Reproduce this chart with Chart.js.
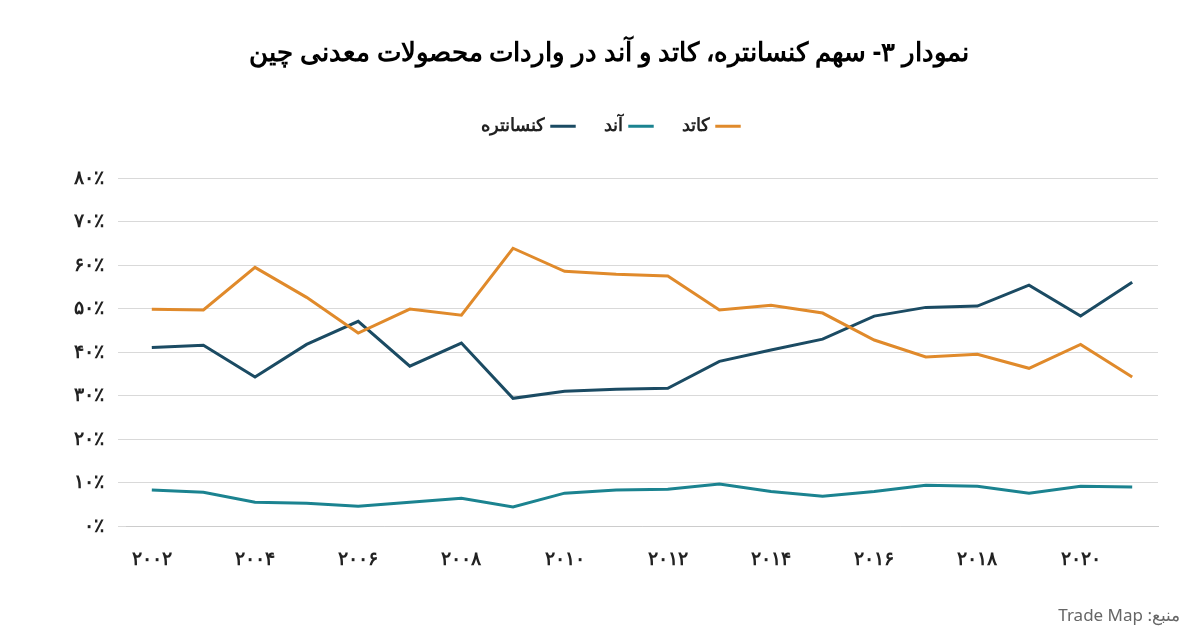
<!DOCTYPE html>
<html><head><meta charset="utf-8">
<script src="https://cdn.jsdelivr.net/npm/chart.js@4"></script>
<style>html,body{margin:0;background:#fff;}#w{position:relative;width:1196px;height:644px;}
#src{position:absolute;right:16px;bottom:18px;font:17px "Noto Sans";color:#666;direction:rtl;}</style>
</head><body><div id="w"><canvas id="c" width="1196" height="644"></canvas><div id="src">منبع: Trade Map</div></div>
<script>
const years=[2002,2003,2004,2005,2006,2007,2008,2009,2010,2011,2012,2013,2014,2015,2016,2017,2018,2019,2020,2021];
const cathode=[49.9,49.7,59.5,52.6,44.4,49.9,48.5,63.9,58.6,57.9,57.5,49.7,50.8,49.0,42.8,38.9,39.5,36.3,41.8,34.3];
const anode=[8.3,7.8,5.5,5.3,4.6,5.5,6.4,4.4,7.6,8.3,8.5,9.7,8.0,6.9,8.0,9.4,9.2,7.6,9.2,9.0];
const concentrate=[41.1,41.6,34.3,41.8,47.1,36.8,42.1,29.4,31.0,31.5,31.7,37.9,40.5,43.0,48.3,50.3,50.6,55.4,48.3,56.1];
const fa=n=>String(n).replace(/\d/g,d=>'۰۱۲۳۴۵۶۷۸۹'[d]);
const ds=(l,d,c)=>({label:l,data:d,borderColor:c,backgroundColor:c,borderWidth:3,pointRadius:0,tension:0});
const legendPad={id:'lp',beforeInit(c){const f=c.legend.fit;c.legend.fit=function(){f.call(this);this.height+=33;};}};
new Chart(document.getElementById('c'),{type:'line',
data:{labels:years,datasets:[ds('کاتد',cathode,'#e08a2b'),ds('آند',anode,'#1b8390'),ds('کنسانتره',concentrate,'#1b4b63')]},
plugins:[legendPad],
options:{responsive:false,animation:false,
layout:{padding:{left:60,right:38,top:10,bottom:59}},
plugins:{title:{display:true,text:'نمودار ۳- سهم کنسانتره، کاتد و آند در واردات محصولات معدنی چین',font:{family:'Noto Sans',size:26,weight:'bold'},color:'#000',padding:{top:28,bottom:16}},
legend:{rtl:true,labels:{usePointStyle:true,pointStyle:'line',boxWidth:40,padding:32,font:{family:'Noto Sans',size:18,weight:'bold'},color:'#222'}}},
scales:{x:{offset:true,grid:{display:false},border:{color:'#ccc'},ticks:{autoSkip:false,maxRotation:0,padding:14,font:{family:'Noto Sans',size:19,weight:'bold'},color:'#222',callback:(v,i)=>years[i]%2===0?fa(years[i]):''}},
y:{min:0,max:80,ticks:{stepSize:10,padding:14,font:{family:'Noto Sans',size:19,weight:'bold'},color:'#222',callback:v=>fa(v)+'٪'},grid:{color:'#d9d9d9'},border:{display:false}}}}});
</script></body></html>
